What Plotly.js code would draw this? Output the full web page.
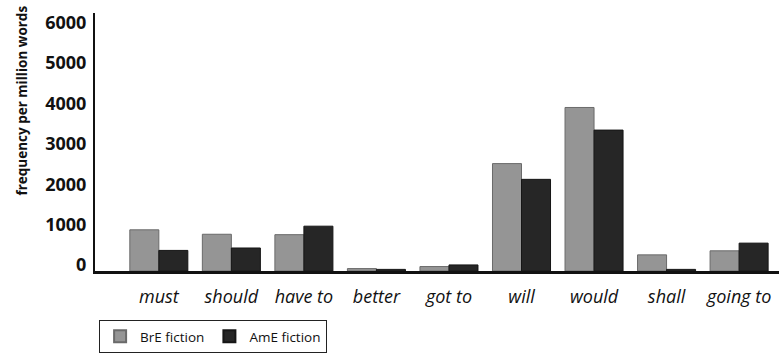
<!DOCTYPE html>
<html>
<head>
<meta charset="utf-8">
<script src="https://cdn.plot.ly/plotly-3.0.1.min.js"></script>
<style>html,body{margin:0;padding:0;background:#fff;}#chart{width:779px;height:358px;}</style>
</head>
<body>
<div id="chart"></div>
<script>
const categories = ["must", "should", "have to", "better", "got to", "will", "would", "shall", "going to"];
const brE = [1020, 910, 900, 60, 110, 2660, 4050, 400, 500];
const amE = [510, 570, 1110, 40, 150, 2270, 3490, 40, 690];
const seriesNames = ["BrE fiction", "AmE fiction"];
const yTicks = [0, 1000, 2000, 3000, 4000, 5000, 6000];

const traces = [
  {type: "bar", name: seriesNames[0], x: categories, y: brE,
   marker: {color: "#959595", line: {color: "#6a6a6a", width: 1}}},
  {type: "bar", name: seriesNames[1], x: categories, y: amE,
   marker: {color: "#262626", line: {color: "#161616", width: 1}}}
];

const layout = {
  width: 779, height: 358,
  margin: {l: 95, r: 0, t: 13, b: 87},
  paper_bgcolor: "#fff", plot_bgcolor: "#fff",
  font: {family: "Open Sans, DejaVu Sans, sans-serif", color: "#111"},
  barmode: "group", bargap: 0.2, bargroupgap: 0,
  showlegend: true,
  legend: {orientation: "h", x: 0.006, xanchor: "left", y: -0.19, yanchor: "top",
           bordercolor: "#222", borderwidth: 1, font: {size: 13.5, color: "#111"},
           itemsizing: "constant", traceorder: "normal"},
  xaxis: {
    type: "category", range: [-0.88, 8.55],
    showline: true, linecolor: "#111", linewidth: 2.5,
    ticks: "", showgrid: false, zeroline: false,
    tickfont: {size: 18, style: "italic", color: "#111"},
    ticklabelstandoff: 8
  },
  yaxis: {
    range: [0, 6390], tickvals: yTicks, ticktext: yTicks.map(String),
    showline: true, linecolor: "#111", linewidth: 2,
    ticks: "", showgrid: false, zeroline: false,
    tickfont: {size: 18, weight: "bold", color: "#111"},
    ticklabelstandoff: 3, ticklabelshift: -6
  },
  annotations: [{
    text: "frequency per million words", xref: "paper", yref: "paper",
    x: -0.107, y: 0.66, xanchor: "center", yanchor: "middle", textangle: -90,
    showarrow: false, font: {size: 13.5, weight: "bold", color: "#111"}
  }]
};

Plotly.newPlot("chart", traces, layout, {displayModeBar: false, staticPlot: true});
</script>
</body>
</html>
